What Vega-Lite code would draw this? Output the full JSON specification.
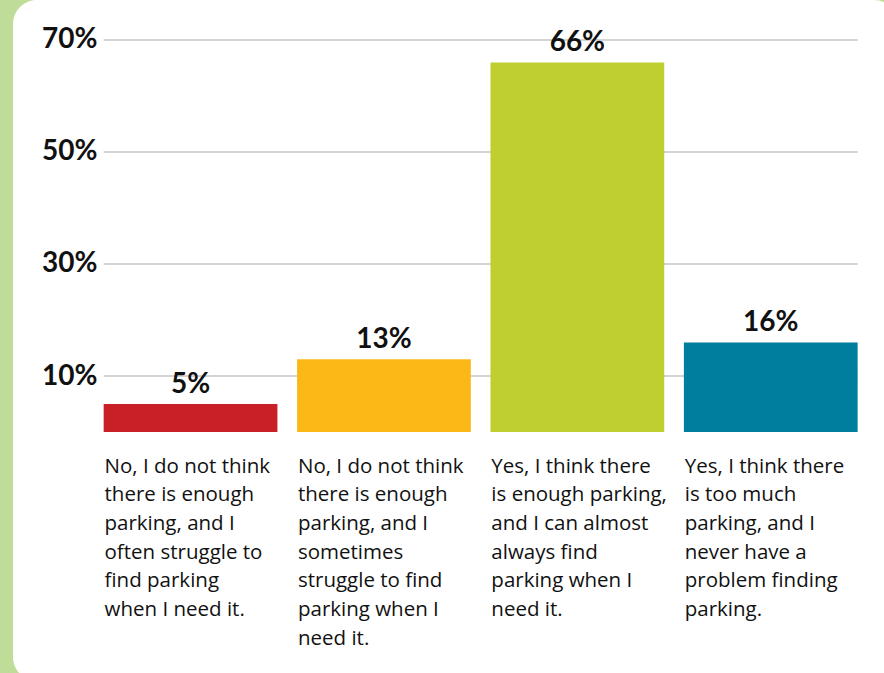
{
  "$schema": "https://vega.github.io/schema/vega-lite/v6.json",
  "width": 884,
  "height": 673,
  "autosize": {"type": "fit", "contains": "padding"},
  "padding": {"left": 13, "top": 0, "right": -14, "bottom": -8},
  "background": "#bfdd98",
  "config": {
    "view": {"fill": "white", "cornerRadius": 24, "stroke": null},
    "font": "Lato"
  },
  "data": {
    "values": [
      {"answer": "No, I do not think|there is enough|parking, and I|often struggle to|find parking|when I need it.", "pct": 0.05},
      {"answer": "No, I do not think|there is enough|parking, and I|sometimes|struggle to find|parking when I|need it.", "pct": 0.13},
      {"answer": "Yes, I think there|is enough parking,|and I can almost|always find|parking when I|need it.", "pct": 0.66},
      {"answer": "Yes, I think there|is too much|parking, and I|never have a|problem finding|parking.", "pct": 0.16}
    ]
  },
  "layer": [
    {
      "data": {"values": [{"g": 0.1}, {"g": 0.3}, {"g": 0.5}, {"g": 0.7}]},
      "mark": {"type": "rule", "stroke": "#d4d4d4", "strokeWidth": 2},
      "encoding": {
        "y": {"field": "g", "type": "quantitative", "scale": {"domain": [-0.4446, 0.7714], "nice": false, "zero": false}},
        "x": {
          "datum": "No, I do not think|there is enough|parking, and I|often struggle to|find parking|when I need it.", "type": "nominal", "bandPosition": 0,
          "scale": {
            "domain": [
              "No, I do not think|there is enough|parking, and I|often struggle to|find parking|when I need it.",
              "No, I do not think|there is enough|parking, and I|sometimes|struggle to find|parking when I|need it.",
              "Yes, I think there|is enough parking,|and I can almost|always find|parking when I|need it.",
              "Yes, I think there|is too much|parking, and I|never have a|problem finding|parking."
            ],
            "paddingInner": 0.1016, "paddingOuter": 0.3387, "align": 0.692
          }
        },
        "x2": {"datum": "Yes, I think there|is too much|parking, and I|never have a|problem finding|parking.", "bandPosition": 1}
      }
    },
    {
      "mark": {"type": "bar"},
      "encoding": {
        "x": {
          "field": "answer", "type": "nominal", "sort": null,
          "scale": {
            "domain": [
              "No, I do not think|there is enough|parking, and I|often struggle to|find parking|when I need it.",
              "No, I do not think|there is enough|parking, and I|sometimes|struggle to find|parking when I|need it.",
              "Yes, I think there|is enough parking,|and I can almost|always find|parking when I|need it.",
              "Yes, I think there|is too much|parking, and I|never have a|problem finding|parking."
            ],
            "paddingInner": 0.1016, "paddingOuter": 0.3387, "align": 0.692
          },
          "axis": {
            "orient": "bottom", "offset": -225,
            "labelAlign": "left", "labelBaseline": "top", "labelAngle": 0,
            "labelExpr": "split(datum.label, '|')",
            "labelLineHeight": 28.7, "labelFontSize": 20.5, "labelFont": "Open Sans",
            "labelColor": "#111111", "labelPadding": 0, "labelOffset": -86,
            "labelLimit": 0, "labelOverlap": false, "labelBound": false,
            "domain": false, "ticks": false, "grid": false, "title": null
          }
        },
        "y": {
          "field": "pct", "type": "quantitative",
          "scale": {"domain": [-0.4446, 0.7714], "nice": false, "zero": false},
          "axis": {
            "values": [0.1, 0.3, 0.5, 0.7], "format": ".0%", "offset": -90,
            "domain": false, "ticks": false, "tickSize": 0, "grid": false, "title": null,
            "labelFont": "Lato", "labelFontWeight": "bold", "labelFontSize": 28,
            "labelColor": "#111111", "labelPadding": 6, "labelBaseline": "middle"
          }
        },
        "y2": {"datum": 0},
        "color": {
          "field": "answer", "type": "nominal", "sort": null, "legend": null,
          "scale": {"range": ["#c91f26", "#fbb817", "#bfcf30", "#007e9d"]}
        }
      }
    },
    {
      "mark": {"type": "text", "fontWeight": "bold", "fontSize": 28, "font": "Lato", "baseline": "alphabetic", "dy": -11, "color": "#111111"},
      "encoding": {
        "x": {"field": "answer", "type": "nominal", "sort": null},
        "y": {"field": "pct", "type": "quantitative", "scale": {"domain": [-0.4446, 0.7714], "nice": false, "zero": false}},
        "text": {"field": "pct", "type": "quantitative", "format": ".0%"}
      }
    }
  ]
}
